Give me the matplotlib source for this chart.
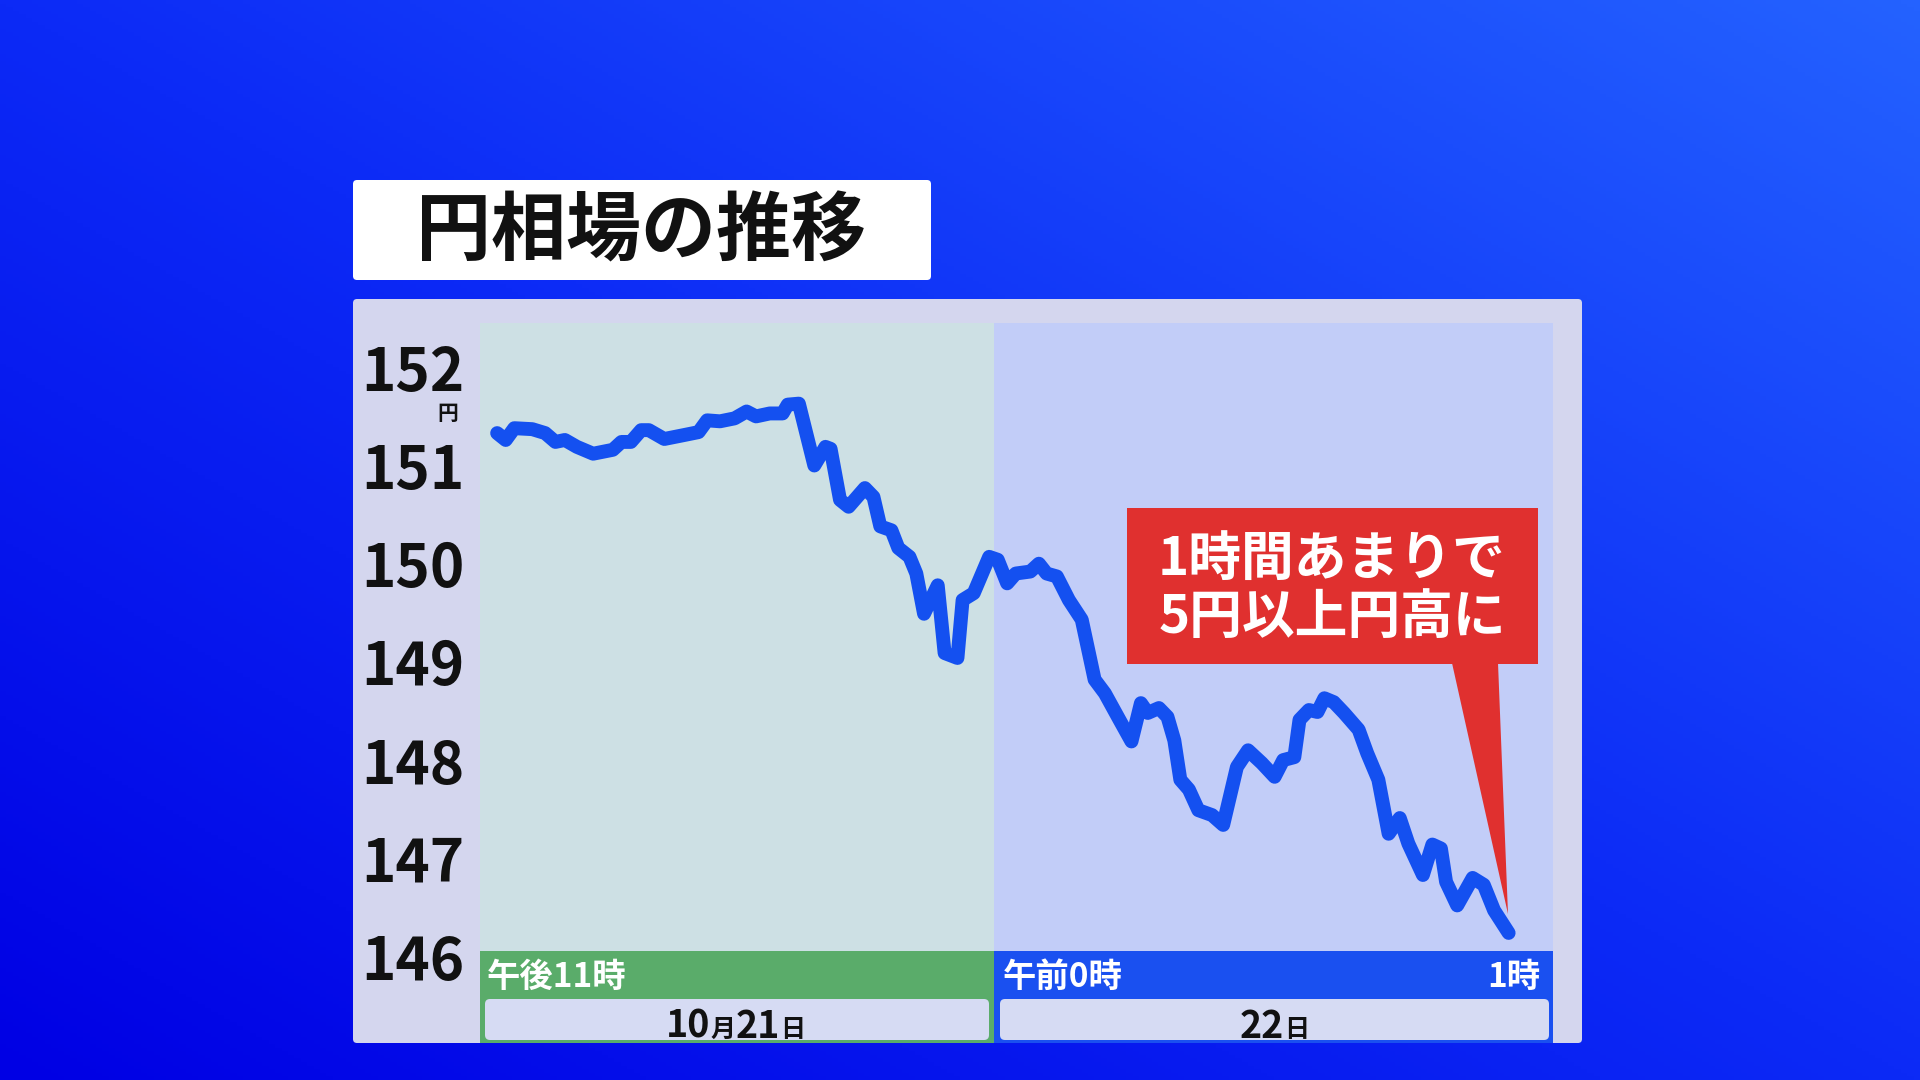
import numpy as np
import matplotlib
matplotlib.use('Agg')
import matplotlib.pyplot as plt
from matplotlib.patches import Rectangle, FancyBboxPatch, Polygon
from matplotlib.colors import LinearSegmentedColormap

plt.rcParams['font.family'] = ['Noto Sans CJK JP', 'DejaVu Sans']

# minutes after 23:00 (10/21), USD/JPY rate
minutes = [2.0, 3.0, 4.0, 6.1, 7.6, 8.8, 9.9, 11.3, 13.2, 15.5,
           16.5, 17.6, 18.8, 19.7, 21.5, 23.8, 25.5, 26.5, 28.0, 29.7,
           31.1, 32.2, 33.8, 35.3, 35.9, 37.2, 39.0, 40.3, 40.9, 42.0,
           43.0, 44.9, 45.9, 46.7, 48.0, 48.8, 50.1, 50.9, 51.8, 53.4,
           54.2, 55.7, 56.3, 57.6, 59.4, 60.4, 61.5, 62.5, 64.2, 65.2,
           66.1, 67.3, 68.7, 70.2, 71.7, 72.9, 74.6, 76.0, 77.1, 77.9,
           79.2, 80.2, 81.0, 81.7, 82.7, 83.8, 85.4, 86.7, 88.3, 89.6,
           91.2, 92.7, 93.7, 95.0, 95.6, 96.7, 97.7, 98.5, 99.6, 100.8,
           102.5, 103.5, 104.8, 106.0, 107.3, 108.3, 110.0, 111.1, 112.1, 112.7,
           114.0, 115.8, 117.1, 118.3, 120.0]
yen = [151.33, 151.26, 151.38, 151.37, 151.33, 151.24, 151.26, 151.19, 151.12, 151.16,
       151.24, 151.24, 151.36, 151.36, 151.27, 151.31, 151.34, 151.46, 151.45, 151.48,
       151.55, 151.50, 151.53, 151.53, 151.62, 151.63, 151.00, 151.19, 151.17, 150.65,
       150.58, 150.77, 150.68, 150.38, 150.34, 150.16, 150.07, 149.90, 149.49, 149.78,
       149.09, 149.04, 149.63, 149.70, 150.07, 150.04, 149.80, 149.90, 149.92, 150.00,
       149.90, 149.87, 149.63, 149.43, 148.82, 148.68, 148.41, 148.19, 148.58, 148.48,
       148.53, 148.44, 148.20, 147.80, 147.70, 147.49, 147.44, 147.34, 147.93, 148.10,
       147.97, 147.83, 148.00, 148.03, 148.41, 148.51, 148.49, 148.63, 148.59, 148.48,
       148.31, 148.07, 147.80, 147.25, 147.41, 147.15, 146.83, 147.14, 147.10, 146.76,
       146.52, 146.80, 146.73, 146.47, 146.24]

y_ticks = [146, 147, 148, 149, 150, 151, 152]
title = '円相場の推移'
callout = '1時間あまりで\n5円以上円高に'
hour_labels = ['午後11時', '午前0時', '1時']

W, H = 1920, 1080
PX_PER_MIN = 8.572
PX_PER_YEN = 98.2


def mx(px):
    return (px - 480) / PX_PER_MIN


def vy(py):
    return 152 - (py - 367.3) / PX_PER_YEN


fig = plt.figure(figsize=(19.2, 10.8), dpi=100)

# background in pixel coordinates
bg = fig.add_axes([0, 0, 1, 1])
gx, gy = np.meshgrid(np.linspace(0, 1, 300), np.linspace(1, 0, 300))
cmap = LinearSegmentedColormap.from_list('bg', ['#0000e4', '#0c2af6', '#2462ff'])
bg.imshow((gx + gy) / 2, cmap=cmap, aspect='auto', extent=[0, W, H, 0], origin='upper')
bg.set_xlim(0, W)
bg.set_ylim(H, 0)
bg.axis('off')

# panel and shaded halves
bg.add_patch(FancyBboxPatch((353, 299), 1229, 744, boxstyle='round,pad=0,rounding_size=4',
                            fc='#d4d6ee', ec='none'))
bg.add_patch(Rectangle((480, 323), 514, 628, fc='#cde0e4', ec='none'))
bg.add_patch(Rectangle((994, 323), 559, 628, fc='#c2cdf8', ec='none'))
bg.add_patch(Rectangle((480, 951), 514, 92, fc='#5aac6a', ec='none'))
bg.add_patch(Rectangle((994, 951), 559, 92, fc='#1a50f0', ec='none'))
bg.add_patch(FancyBboxPatch((485, 999), 504, 41, boxstyle='round,pad=0,rounding_size=5',
                            fc='#d6dbf3', ec='none'))
bg.add_patch(FancyBboxPatch((1000, 999), 549, 41, boxstyle='round,pad=0,rounding_size=5',
                            fc='#d6dbf3', ec='none'))

# title box
bg.add_patch(FancyBboxPatch((353, 180), 578, 100, boxstyle='round,pad=0,rounding_size=4',
                            fc='white', ec='none'))
bg.text(641, 232, title, fontsize=54, weight='bold', ha='center', va='center', color='#111111')

# hour labels
bg.text(487, 977, hour_labels[0], fontsize=24, weight='bold', color='white', ha='left', va='center')
bg.text(1003, 977, hour_labels[1], fontsize=24, weight='bold', color='white', ha='left', va='center')
bg.text(1540, 977, hour_labels[2], fontsize=24, weight='bold', color='white', ha='right', va='center')


def chain(x, y, parts):
    prev = None
    for s, size in parts:
        if prev is None:
            prev = bg.text(x, y, s, fontsize=size, weight='bold', color='#111111',
                           ha='left', va='bottom')
        else:
            lift = 3 if size < 20 else -3
            prev = bg.annotate(s, xy=(1, 0), xycoords=prev, xytext=(0, lift),
                               textcoords='offset points', fontsize=size, weight='bold',
                               color='#111111', ha='left', va='bottom')


chain(666, 1046, [('10', 27), ('月', 18), ('21', 27), ('日', 18)])
chain(1240, 1046, [('22', 27), ('日', 18)])

# unit under 152
bg.text(448, 413, '円', fontsize=15, weight='bold', color='#111111', ha='center', va='center')

# main chart
ax = fig.add_axes([480 / W, 1 - 1043 / H, 1073 / W, (1043 - 323) / H])
ax.set_facecolor('none')
ax.set_xlim(0, mx(1553))
ax.set_ylim(vy(1043), vy(323))
ax.plot(minutes, yen, color='#1450f0', lw=10, solid_joinstyle='round',
        solid_capstyle='round', zorder=3)

ax.set_xticks([])
ax.set_yticks(y_ticks)
ax.set_yticklabels([str(t) for t in y_ticks], fontsize=42, weight='bold', color='#111111')
ax.tick_params(axis='y', length=0, pad=11)
for s in ax.spines.values():
    s.set_visible(False)

# callout
ax.add_patch(Rectangle((mx(1127), vy(664)), mx(1538) - mx(1127), vy(508) - vy(664),
                       fc='#e0302f', ec='none', zorder=4))
ax.add_patch(Polygon([(mx(1452), vy(663)), (mx(1498), vy(663)), (mx(1508), vy(914))],
                     closed=True, fc='#e0302f', ec='none', zorder=4))
ax.text(mx(1332), vy(588), callout, fontsize=38, weight='bold', color='white',
        ha='center', va='center', linespacing=1.12, zorder=5)

fig.savefig('out.png', dpi=100)
